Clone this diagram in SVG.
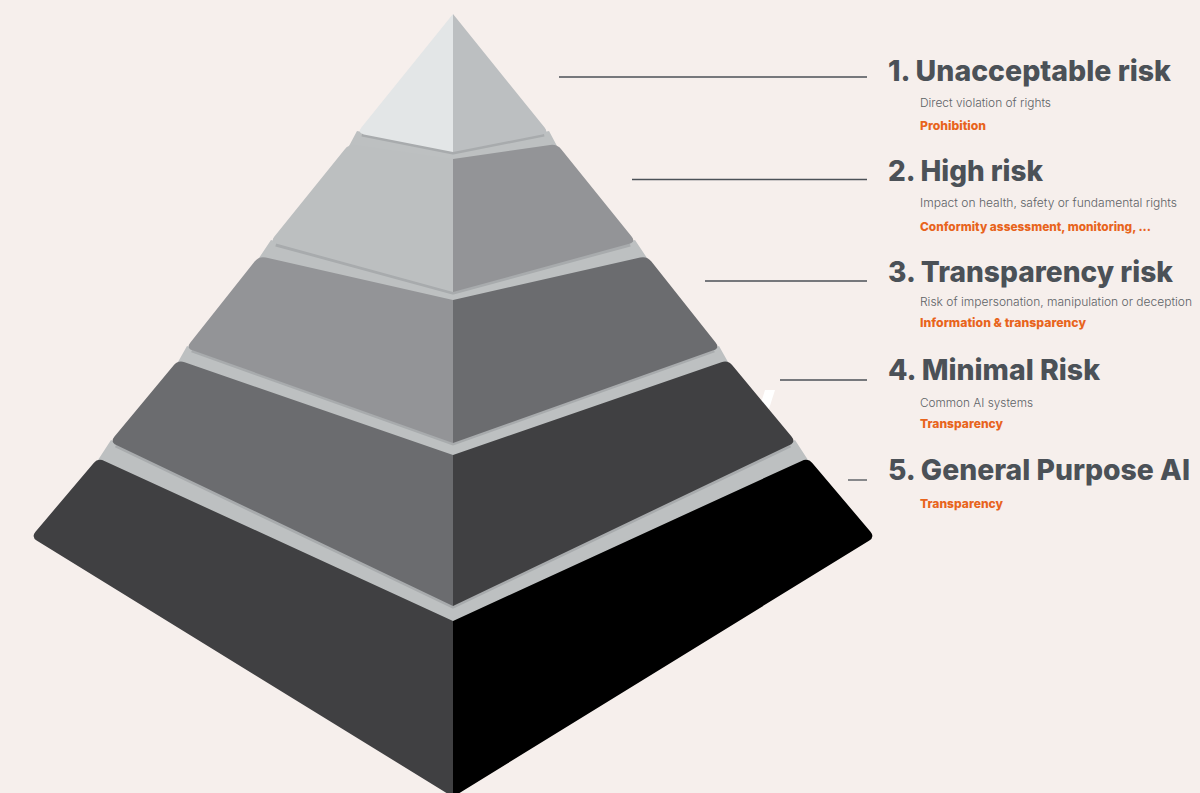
<svg xmlns="http://www.w3.org/2000/svg" width="1200" height="793" viewBox="0 0 1200 793">
  <style>
    .band { fill: #bdc0c1; }
    .stripe { fill: none; stroke: #a8abad; stroke-width: 5; stroke-linejoin: round; }
    .lead { stroke: #4b5157; stroke-width: 1.3; }
    .title { font-family: Inter, "Liberation Sans", sans-serif; font-weight: 800; font-size: 28.5px; fill: #4b5157; }
    .desc { font-family: Inter, "Liberation Sans", sans-serif; font-weight: 300; font-size: 12px; fill: #5d6266; }
    .action { font-family: Inter, "Liberation Sans", sans-serif; font-weight: 800; font-size: 12px; fill: #e8641c; }
  </style>
  <rect width="1200" height="793" fill="#f6efec"/>

  <!-- shelves between the tiers, drawn underneath so they show in the gaps -->
  <g id="shelves">
    <polygon class="band" points="357,131 453,150 549,131 557,146 453,161 349,146"/>
    <polygon class="band" points="271,240 453,290 635,240 647,258 453,302 259,258"/>
    <polygon class="band" points="187,346 453,441 719,346 728,362 453,457 178,362"/>
    <polygon class="band" points="111,440 453,604 795,440 808,460 453,623 98,460"/>
    <polyline class="stripe" points="362,134 453,152 544,134"/>
    <polyline class="stripe" points="276,244 453,292 630,244"/>
    <polyline class="stripe" points="192,350 453,443 714,350"/>
    <polyline class="stripe" points="116,445 453,606 790,445"/>
  </g>

  <polygon points="765,390 775,390 768,412 758,412" fill="#ffffff"/>

  <g id="tier-5">
    <path d="M453,621 L104.4,460.9 Q98,458 93.5,463.3 L35.5,531.7 Q31,537 37,540.7 L453,797 Z" fill="#404042"/>
    <path d="M453,621 L801.6,460.9 Q808,458 812.5,463.3 L870.5,531.7 Q875,537 869,540.7 L453,797 Z" fill="#000000"/>
  </g>
  <g id="tier-4">
    <path d="M453,455 L184.6,362.3 Q178,360 173.5,365.4 L114.5,436.6 Q110,442 116.3,445 L453,606 Z" fill="#6b6c6f"/>
    <path d="M453,455 L721.4,362.3 Q728,360 732.5,365.4 L791.5,436.6 Q796,442 789.7,445 L453,606 Z" fill="#404042"/>
  </g>
  <g id="tier-3">
    <path d="M453,300 L265.8,257.5 Q259,256 254.6,261.5 L190.4,342.5 Q186,348 192.6,350.3 L453,443 Z" fill="#939497"/>
    <path d="M453,300 L640.2,257.5 Q647,256 651.4,261.5 L715.6,342.5 Q720,348 713.4,350.3 L453,443 Z" fill="#6b6c6f"/>
  </g>
  <g id="tier-2">
    <path d="M453,159 L355.9,145 Q349,144 344.6,149.4 L274.4,236.6 Q270,242 276.8,243.8 L453,292 Z" fill="#bcbfc0"/>
    <path d="M453,159 L550.1,145 Q557,144 561.4,149.4 L631.6,236.6 Q636,242 629.2,243.8 L453,292 Z" fill="#939497"/>
  </g>
  <g id="tier-1">
    <path d="M453,14 L361.4,127.6 Q357,133 363.9,134.4 L453,152 Z" fill="#e3e6e7"/>
    <path d="M453,14 L544.6,127.6 Q549,133 542.1,134.4 L453,152 Z" fill="#bcbfc1"/>
  </g>

  <g id="connectors">
    <line class="lead" x1="559" y1="77" x2="867" y2="77"/>
    <line class="lead" x1="632" y1="179.5" x2="867" y2="179.5"/>
    <line class="lead" x1="705" y1="281" x2="867" y2="281"/>
    <line class="lead" x1="780" y1="380" x2="867" y2="380"/>
    <line class="lead" x1="848" y1="480" x2="867" y2="480"/>
  </g>

  <g id="label-1">
    <text class="title" x="888" y="80.7" textLength="283" lengthAdjust="spacingAndGlyphs">1. Unacceptable risk</text>
    <text class="desc" x="920" y="106.7" textLength="131" lengthAdjust="spacingAndGlyphs">Direct violation of rights</text>
    <text class="action" x="920" y="130" textLength="66" lengthAdjust="spacingAndGlyphs">Prohibition</text>
  </g>
  <g id="label-2">
    <text class="title" x="888" y="180.7" textLength="155" lengthAdjust="spacingAndGlyphs">2. High risk</text>
    <text class="desc" x="920" y="206.7" textLength="257" lengthAdjust="spacingAndGlyphs">Impact on health, safety or fundamental rights</text>
    <text class="action" x="920" y="230.7" textLength="231" lengthAdjust="spacingAndGlyphs">Conformity assessment, monitoring, ...</text>
  </g>
  <g id="label-3">
    <text class="title" x="888" y="281.7" textLength="285" lengthAdjust="spacingAndGlyphs">3. Transparency risk</text>
    <text class="desc" x="920" y="306" textLength="272" lengthAdjust="spacingAndGlyphs">Risk of impersonation, manipulation or deception</text>
    <text class="action" x="920" y="326.7" textLength="166" lengthAdjust="spacingAndGlyphs">Information &amp; transparency</text>
  </g>
  <g id="label-4">
    <text class="title" x="888" y="380" textLength="212" lengthAdjust="spacingAndGlyphs">4. Minimal Risk</text>
    <text class="desc" x="920" y="407.3" textLength="113" lengthAdjust="spacingAndGlyphs">Common AI systems</text>
    <text class="action" x="920" y="428.3" textLength="83" lengthAdjust="spacingAndGlyphs">Transparency</text>
  </g>
  <g id="label-5">
    <text class="title" x="888" y="480" textLength="302" lengthAdjust="spacingAndGlyphs">5. General Purpose AI</text>
    <text class="action" x="920" y="507.7" textLength="83" lengthAdjust="spacingAndGlyphs">Transparency</text>
  </g>
</svg>
